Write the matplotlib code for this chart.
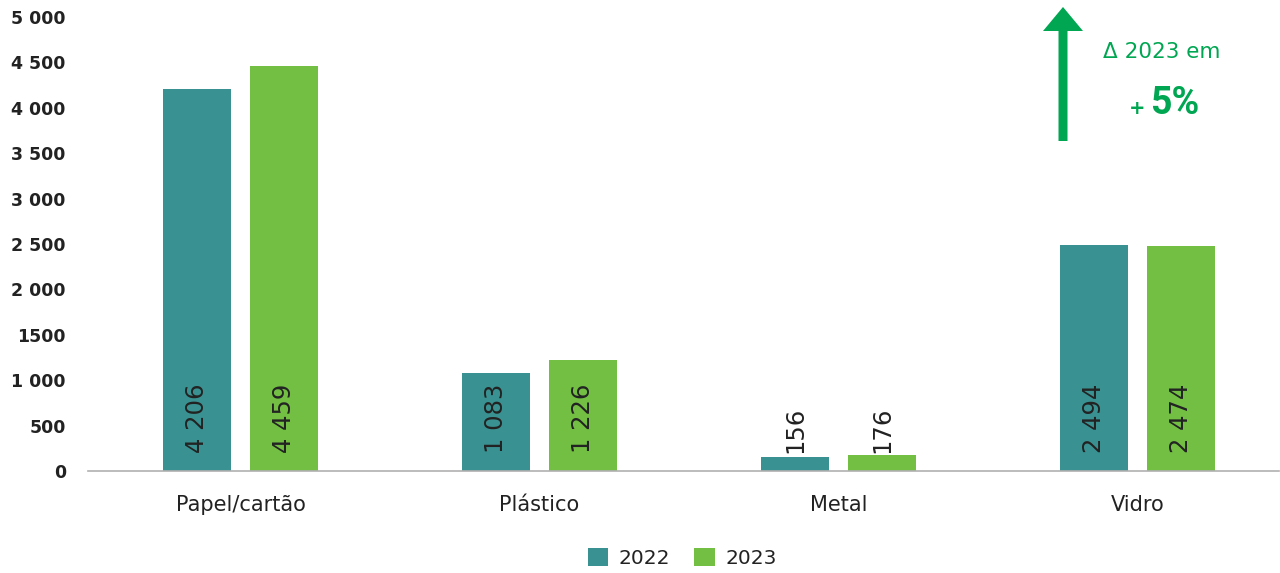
import matplotlib
matplotlib.use("Agg")
import matplotlib.pyplot as plt
import numpy as np
from matplotlib.patches import FancyArrow

plt.rcParams['font.family'] = ['DejaVu Sans']

categories = ["Papel/cartão", "Plástico", "Metal", "Vidro"]
values_2022 = [4206, 1083, 156, 2494]
values_2023 = [4459, 1226, 176, 2474]
series_names = ["2022", "2023"]
y_ticks = [0, 500, 1000, 1500, 2000, 2500, 3000, 3500, 4000, 4500, 5000]
y_tick_labels = ["0", "500", "1 000", "1500", "2 000", "2 500", "3 000", "3 500", "4 000", "4 500", "5 000"]
delta_title = "Δ 2023 em"
delta_sign = "+"
delta_value = "5%"

color_2022 = "#3a9191"
color_2023 = "#72bf44"
accent = "#00a651"
text_dark = "#222222"


def fmt(v):
    return f"{v:,}".replace(",", " ")


fig = plt.figure(figsize=(12.8, 5.73), dpi=100)
ax = fig.add_axes([0.06875, 0.178, 0.9305, 0.7923])

x = np.arange(len(categories))
w = 0.2274
off = 0.1455
b1 = ax.bar(x - off, values_2022, w, color=color_2022, label=series_names[0])
b2 = ax.bar(x + off, values_2023, w, color=color_2023, label=series_names[1])

for bars, vals in ((b1, values_2022), (b2, values_2023)):
    for rect, v in zip(bars, vals):
        ax.annotate(fmt(v), (rect.get_x() + rect.get_width() / 2, 0),
                    xytext=(0, 13), textcoords="offset points",
                    rotation=90, ha="center", va="bottom",
                    fontsize=17.5, color=text_dark)

ax.set_xlim(-0.51, 3.473)
ax.set_ylim(0, 5000)
ax.set_yticks(y_ticks)
ax.set_yticklabels(y_tick_labels, fontsize=12.5, fontweight="bold", color=text_dark)
ax.set_xticks(x)
ax.set_xticklabels(categories, fontsize=15, color=text_dark)
ax.tick_params(axis="y", length=0, pad=16)
ax.tick_params(axis="x", length=0, pad=17)
for s in ("top", "right", "left"):
    ax.spines[s].set_visible(False)
ax.spines["bottom"].set_color("#b0b0b0")
ax.spines["bottom"].set_linewidth(1.2)

leg = fig.legend(handles=[b1, b2], labels=series_names, loc="center",
                 bbox_to_anchor=(0.533, 0.026), ncol=2, frameon=False,
                 fontsize=14.5, handlelength=1.0, handleheight=1.0,
                 columnspacing=1.2, handletextpad=0.55)
for t in leg.get_texts():
    t.set_color(text_dark)

# Growth indicator arrow and caption
fig.patches.append(FancyArrow(1063 / 1280, 1 - 141 / 573, 0, (141 - 7) / 573,
                              width=9 / 1280, head_width=40 / 1280,
                              head_length=24 / 573, length_includes_head=True,
                              color=accent, lw=0, transform=fig.transFigure))
fig.text(1162 / 1280, 1 - 52 / 573, delta_title, ha="center", va="center",
         fontsize=15.5, color=accent)
fig.text(1137 / 1280, 1 - 108 / 573, delta_sign, ha="center", va="center",
         fontsize=14, fontweight="bold", color=accent)
fig.text(1175 / 1280, 1 - 104 / 573, delta_value, ha="center", va="center",
         fontsize=27, fontweight="bold", color=accent, family="Roboto")

fig.savefig("out.png", dpi=100)
